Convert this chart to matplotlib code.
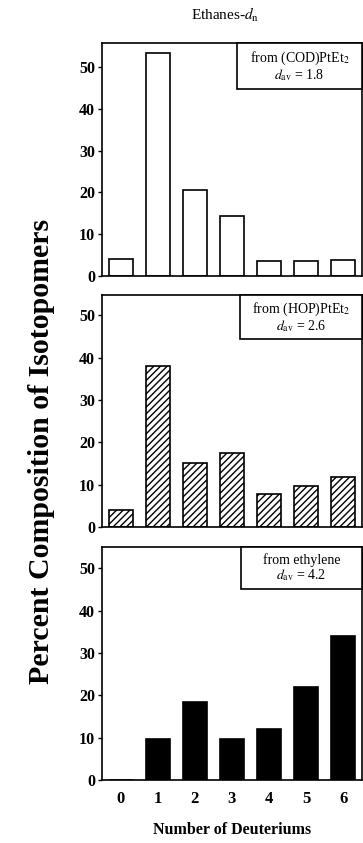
import matplotlib
matplotlib.use('Agg')
import matplotlib.pyplot as plt
from matplotlib.patches import Rectangle

# Number of deuteriums on the x axis
deuteriums = [0, 1, 2, 3, 4, 5, 6]
tick_labels = ['0', '1', '2', '3', '4', '5', '6']

# Percent composition for each source
cod_values = [4.1, 53.2, 20.6, 14.4, 3.7, 3.7, 3.8]
hop_values = [4.1, 38.1, 15.2, 17.5, 7.7, 9.7, 11.8]
ethylene_values = [0.0, 9.6, 18.5, 9.8, 12.0, 22.0, 33.9]

sources = ['from (COD)PtEt$_2$', 'from (HOP)PtEt$_2$', 'from ethylene']
d_av = ['1.8', '2.6', '4.2']

plt.rcParams['font.family'] = ['Liberation Serif', 'DejaVu Serif']
plt.rcParams['mathtext.fontset'] = 'stix'
plt.rcParams['hatch.linewidth'] = 1.0

fig = plt.figure(figsize=(3.63, 8.43), dpi=100)

panels = [
    (cod_values, 'white', None, [0.281, 0.6726, 0.716, 0.2764], 55.7, 0.48, 0.197),
    (hop_values, 'white', '/////', [0.281, 0.3749, 0.716, 0.2752], 54.8, 0.47, 0.19),
    (ethylene_values, 'black', None, [0.281, 0.0747, 0.716, 0.2764], 55.0, 0.465, 0.18),
]

for i, (values, color, hatch, pos, top, bw, bh) in enumerate(panels):
    ax = fig.add_axes(pos)
    ax.bar(deuteriums, values, width=0.65, color=color, edgecolor='black',
           linewidth=1.2, hatch=hatch)
    ax.set_xlim(-0.5, 6.5)
    ax.set_ylim(0, top)
    ax.set_yticks([0, 10, 20, 30, 40, 50])
    ax.tick_params(axis='y', direction='out', length=3, width=1, pad=2,
                   labelsize=11.5)
    for lbl in ax.get_yticklabels():
        lbl.set_fontweight('bold')
    ax.set_xticks(deuteriums)
    if i == 2:
        ax.set_xticklabels(tick_labels, fontsize=12, fontweight='bold')
        ax.tick_params(axis='x', length=0, pad=8)
        ax.set_xlabel('Number of Deuteriums', fontsize=11.5, fontweight='bold',
                      labelpad=11)
    else:
        ax.set_xticklabels([])
        ax.tick_params(axis='x', length=0)
    for sp in ax.spines.values():
        sp.set_linewidth(1.2)
    # label box flush with the top right corner
    ax.add_patch(Rectangle((1 - bw, 1 - bh), bw, bh, transform=ax.transAxes,
                           facecolor='white', edgecolor='black', linewidth=1.2,
                           zorder=3, clip_on=False))
    ax.text(1 - bw / 2, 1 - bh / 2, sources[i] + '\n$d_{\\mathrm{av}}$ = ' + d_av[i],
            transform=ax.transAxes, ha='center', va='center', fontsize=10,
            linespacing=1.0, multialignment='center', zorder=4)

fig.text(0.62, 0.982, 'Ethanes-$d_{\\mathrm{n}}$', ha='center', va='center',
         fontsize=11)
fig.text(0.115, 0.464, 'Percent Composition of Isotopomers', rotation=90,
         ha='center', va='center', fontsize=21.5, fontweight='bold')

fig.savefig('out.png', dpi=100)
